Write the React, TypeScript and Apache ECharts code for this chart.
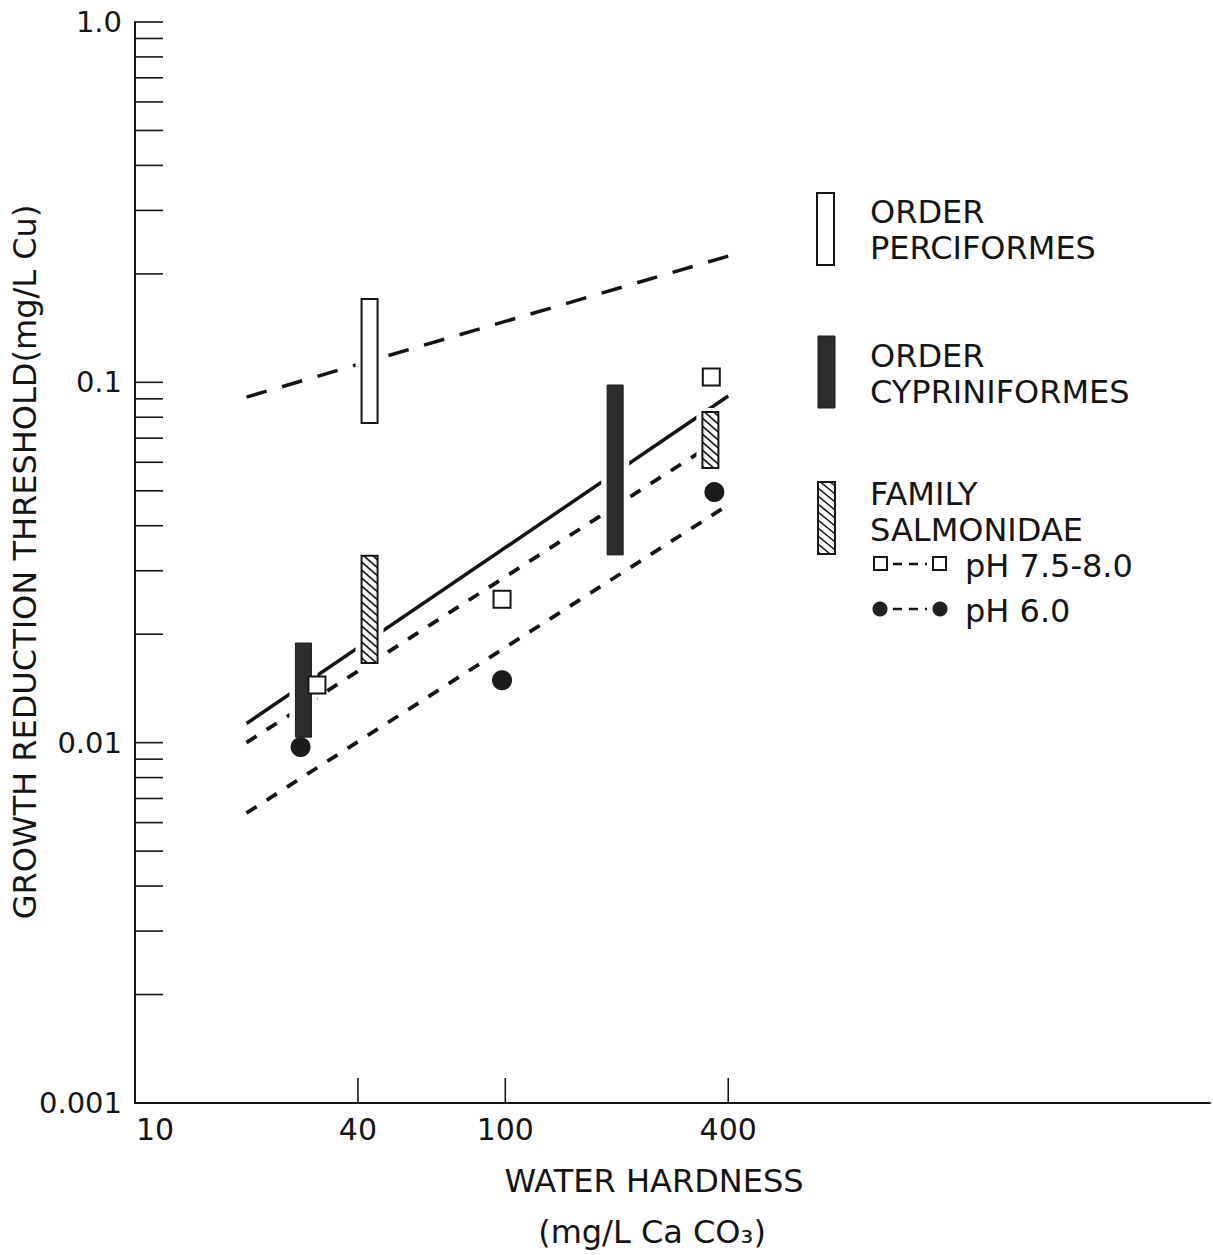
import React, { useEffect, useRef } from 'react';
import * as echarts from 'echarts';

const FONT = '"DejaVu Sans", "Liberation Sans", sans-serif';
const INK = '#141414';

// ---- axis ticks and labels ----
const yTickValues = [
  0.002, 0.003, 0.004, 0.005, 0.006, 0.007, 0.008, 0.009,
  0.01, 0.02, 0.03, 0.04, 0.05, 0.06, 0.07, 0.08, 0.09,
  0.1, 0.2, 0.3, 0.4, 0.5, 0.6, 0.7, 0.8, 0.9,
  1.0,
];
const xTickValues = [40, 100, 400];
const xTickLabels = [10, 40, 100, 400];

// ---- regression lines (log-log straight lines: end points) ----
const perciformesLine = [[20, 0.091], [400, 0.224]];
const overallLine = [[20, 0.0113], [400, 0.0916]];
const ph75Line = [[20, 0.01], [400, 0.0719]];
const ph60Line = [[20, 0.00638], [400, 0.0457]];

// ---- range bars: [hardness, low, high] ----
const perciformesBars = [[43, 0.0771, 0.1703]];
const cypriniformesBars = [[28.5, 0.01036, 0.0189], [198, 0.0332, 0.0983]];
const salmonidaeBars = [[43, 0.01663, 0.033], [358, 0.0578, 0.0827]];

// ---- points: [hardness, threshold] ----
const ph75Points = [[31, 0.01445], [98, 0.025], [360, 0.1034]];
const ph60Points = [[28, 0.00972], [98, 0.0149], [367, 0.0496]];

const hatch = (x: number, y: number, w: number, h: number, step = 8, rise = 14) => {
  const segs: any[] = [];
  for (let ys = y - rise + step / 2; ys < y + h; ys += step) {
    let x1 = x, y1 = ys, x2 = x + w, y2 = ys + rise;
    if (y1 < y) { x1 = x + ((y - ys) * w) / rise; y1 = y; }
    if (y2 > y + h) { x2 = x + ((y + h - ys) * w) / rise; y2 = y + h; }
    if (x2 > x1) segs.push({ x1, y1, x2, y2 });
  }
  return segs;
};

type Kind = 'open' | 'dark' | 'hatch';

const barElements = (kind: Kind, x: number, y: number, w: number, h: number, halo: boolean) => {
  const children: any[] = [];
  if (halo) {
    children.push({ type: 'rect', shape: { x: x - 6, y: y - 4, width: w + 12, height: h + 8 }, style: { fill: '#fff' } });
  }
  if (kind === 'dark') {
    children.push({ type: 'rect', shape: { x, y, width: w, height: h }, style: { fill: '#2c2c2c', stroke: '#1a1a1a', lineWidth: 1 } });
  } else {
    children.push({ type: 'rect', shape: { x, y, width: w, height: h }, style: { fill: '#fff' } });
    if (kind === 'hatch') {
      hatch(x, y, w, h).forEach((s) =>
        children.push({ type: 'line', shape: s, style: { stroke: INK, lineWidth: 1.6 } })
      );
    }
    children.push({ type: 'rect', shape: { x, y, width: w, height: h }, style: { fill: 'none', stroke: INK, lineWidth: 2 } });
  }
  return children;
};

const barSeries = (name: string, kind: Kind, data: number[][]) => ({
  name,
  type: 'custom',
  z: 3,
  encode: { x: 0, y: [1, 2] },
  data,
  renderItem: (_p: any, api: any) => {
    const top = api.coord([api.value(0), api.value(2)]);
    const bot = api.coord([api.value(0), api.value(1)]);
    const w = 16;
    return { type: 'group', children: barElements(kind, top[0] - w / 2, top[1], w, bot[1] - top[1], true) };
  },
});

const lineSeries = (name: string, data: number[][], dash: any, width: number) => ({
  name,
  type: 'line',
  z: 2,
  data,
  showSymbol: false,
  symbol: 'none',
  silent: true,
  lineStyle: { color: INK, width, type: dash, opacity: 1 },
});

export default function App() {
  const ref = useRef<HTMLDivElement>(null);

  useEffect(() => {
    if (!ref.current) return;
    const chart = echarts.init(ref.current, null, { renderer: 'svg' });

    const textStyle = (size = 32) => ({ fill: INK, fontSize: size, fontFamily: FONT });
    const legendText = (text: string, x: number, y: number) => ({
      type: 'text', x, y, style: { text, ...textStyle(32), align: 'left', verticalAlign: 'middle' },
    });

    const graphic: any[] = [
      // legend icons
      { type: 'group', children: barElements('open', 817, 193, 17, 72, false) },
      { type: 'group', children: barElements('dark', 818, 336, 17, 72, false) },
      { type: 'group', children: barElements('hatch', 818, 482, 17, 72, false) },
      legendText('ORDER', 870, 212),
      legendText('PERCIFORMES', 870, 248),
      legendText('ORDER', 870, 356),
      legendText('CYPRINIFORMES', 870, 392),
      legendText('FAMILY', 870, 494),
      legendText('SALMONIDAE', 870, 530),
      // pH 7.5-8.0 key
      { type: 'rect', shape: { x: 874, y: 557, width: 13, height: 13 }, style: { fill: '#fff', stroke: INK, lineWidth: 2 } },
      { type: 'line', shape: { x1: 893, y1: 564, x2: 927, y2: 564 }, style: { stroke: INK, lineWidth: 2.5, lineDash: [9, 7] } },
      { type: 'rect', shape: { x: 933, y: 557, width: 13, height: 13 }, style: { fill: '#fff', stroke: INK, lineWidth: 2 } },
      legendText('pH 7.5-8.0', 965, 566),
      // pH 6.0 key
      { type: 'circle', shape: { cx: 880, cy: 609, r: 7.5 }, style: { fill: '#1f1f1f' } },
      { type: 'line', shape: { x1: 893, y1: 609, x2: 927, y2: 609 }, style: { stroke: INK, lineWidth: 2.5, lineDash: [9, 7] } },
      { type: 'circle', shape: { cx: 940, cy: 609, r: 7.5 }, style: { fill: '#1f1f1f' } },
      legendText('pH 6.0', 965, 611),
      // y axis title
      {
        type: 'text', x: 25, y: 562, rotation: Math.PI / 2,
        style: { text: 'GROWTH REDUCTION THRESHOLD(mg/L Cu)', ...textStyle(32), align: 'center', verticalAlign: 'middle' },
      },
      // x axis title
      { type: 'text', x: 654, y: 1181, style: { text: 'WATER HARDNESS', ...textStyle(32), align: 'center', verticalAlign: 'middle' } },
      { type: 'text', x: 652, y: 1232, style: { text: '(mg/L Ca CO₃)', ...textStyle(32), align: 'center', verticalAlign: 'middle' } },
    ];

    const option: any = {
      animation: false,
      backgroundColor: '#fff',
      textStyle: { fontFamily: FONT, color: INK },
      grid: { left: 135, right: 3, top: 22, bottom: 152, containLabel: false, outerBoundsMode: 'none' },
      xAxis: {
        type: 'log',
        logBase: 10,
        min: 10,
        max: 8000,
        axisLine: { show: true, lineStyle: { color: INK, width: 2 } },
        axisTick: { show: false },
        axisLabel: { show: false },
        splitLine: { show: false },
        minorSplitLine: { show: false },
      },
      yAxis: {
        type: 'log',
        logBase: 10,
        min: 0.001,
        max: 1,
        axisLine: { show: true, lineStyle: { color: INK, width: 2 } },
        axisTick: { show: false },
        axisLabel: {
          show: true,
          fontSize: 29,
          fontFamily: FONT,
          color: INK,
          margin: 13,
          formatter: (v: number) => {
            const n = Number(v.toPrecision(3));
            return n === 1 ? '1.0' : String(n);
          },
        },
        splitLine: { show: false },
      },
      series: [
        lineSeries('Perciformes fit', perciformesLine, [21, 16], 3.5),
        lineSeries('All fit', overallLine, 'solid', 3.5),
        lineSeries('pH 7.5-8.0 fit', ph75Line, [12, 12], 3.8),
        lineSeries('pH 6.0 fit', ph60Line, [12, 12], 3.8),
        barSeries('Order Perciformes', 'open', perciformesBars),
        barSeries('Order Cypriniformes', 'dark', cypriniformesBars),
        barSeries('Family Salmonidae', 'hatch', salmonidaeBars),
        {
          name: 'pH 7.5-8.0',
          type: 'scatter',
          z: 4,
          data: ph75Points,
          symbol: 'rect',
          symbolSize: 17,
          itemStyle: { color: '#fff', borderColor: INK, borderWidth: 2, opacity: 1 },
        },
        {
          name: 'pH 6.0',
          type: 'scatter',
          z: 4,
          data: ph60Points,
          symbol: 'circle',
          symbolSize: 20,
          itemStyle: { color: '#1a1a1a', opacity: 1 },
        },
        {
          name: 'y ticks',
          type: 'custom',
          z: 5,
          silent: true,
          data: yTickValues.map((v) => [10, v]),
          renderItem: (_p: any, api: any) => {
            const p = api.coord([api.value(0), api.value(1)]);
            return { type: 'line', shape: { x1: p[0], y1: p[1], x2: p[0] + 28, y2: p[1] }, style: { stroke: INK, lineWidth: 1.6 } };
          },
        },
        {
          name: 'x ticks',
          type: 'custom',
          z: 5,
          silent: true,
          data: xTickValues.map((v) => [v, 0.001]),
          renderItem: (_p: any, api: any) => {
            const p = api.coord([api.value(0), api.value(1)]);
            return { type: 'line', shape: { x1: p[0], y1: p[1], x2: p[0], y2: p[1] - 25 }, style: { stroke: INK, lineWidth: 1.6 } };
          },
        },
        {
          name: 'x labels',
          type: 'custom',
          z: 5,
          silent: true,
          data: xTickLabels.map((v) => [v, 0.001]),
          renderItem: (params: any, api: any) => {
            const v = api.value(0);
            const p = api.coord([v, api.value(1)]);
            const first = params.dataIndex === 0;
            return {
              type: 'text',
              x: first ? p[0] + 1 : p[0],
              y: p[1] + 26,
              style: {
                text: String(v),
                fill: INK,
                fontSize: 30,
                fontFamily: FONT,
                align: first ? 'left' : 'center',
                verticalAlign: 'middle',
              },
            };
          },
        },
      ],
      graphic,
    };

    chart.setOption(option);
    return () => chart.dispose();
  }, []);

  return (
    <div
      ref={ref}
      style={{ position: 'absolute', left: 0, top: 0, width: 1213, height: 1255, background: '#fff' }}
    />
  );
}
